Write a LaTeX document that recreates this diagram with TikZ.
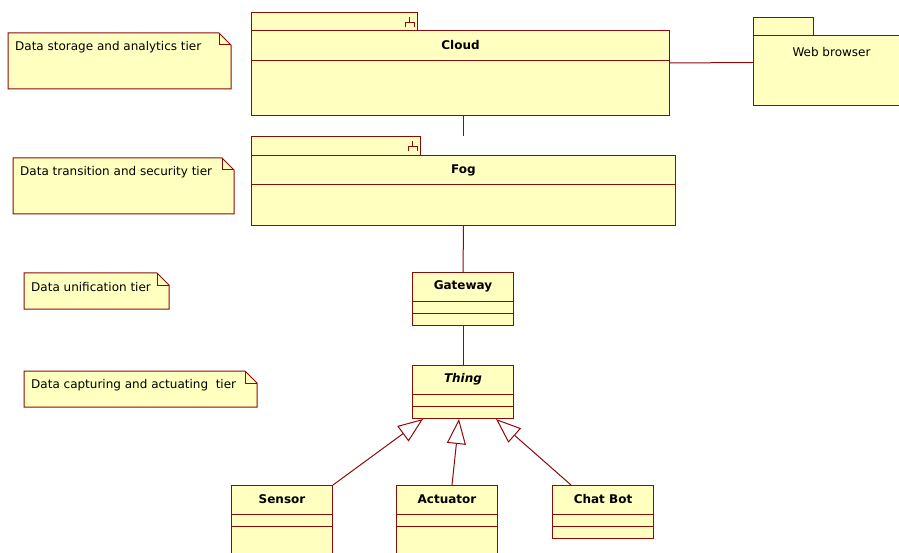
\documentclass[tikz,border=0pt]{standalone}
\usepackage{fontspec}
\setmainfont{DejaVu Sans}
\usetikzlibrary{arrows.meta}
\definecolor{umlred}{RGB}{140,10,10}
\definecolor{umlfill}{RGB}{255,255,192}
\tikzset{
  umlbox/.style={draw=umlred,fill=umlfill,line width=1pt,inner sep=0pt,anchor=north west},
  umlline/.style={draw=umlred,line width=1pt},
  umlname/.style={font=\fontsize{12}{14}\selectfont\bfseries},
  gen/.style={umlline,-{Triangle[open,length=25pt,width=19pt]}}
}
\begin{document}
\begin{tikzpicture}[x=1pt,y=-1pt,font=\fontsize{12}{14}\selectfont]
\useasboundingbox (0,0) rectangle (899,553);
\foreach \nm/\xa/\xb/\xt/\ya/\yb/\yc in {cloud/251/669/417/12/30/115,fog/251/675/420/136/155/225,web/753/909/813/17/35/105}{
  \node[umlbox,minimum width=\xt-\xa,minimum height=\yb-\ya] (\nm tab) at (\xa,\ya) {};
  \node[umlbox,minimum width=\xb-\xa,minimum height=\yc-\yb] (\nm) at (\xa,\yb) {};
}
\foreach \nm/\d/\txt in {cloud/31/Cloud,fog/30/Fog}{
  \node[umlname] (\nm name) at ([yshift=-\d pt/2]\nm.north) {\txt};
  \draw[umlline] ([yshift=-\d pt]\nm.north west) -- ([yshift=-\d pt]\nm.north east);
  \draw[umlline] ([shift={(-13,15.5)}]\nm tab.north east) -- ++(0,-5) -- ++(9,0) -- ++(0,5)
    ([shift={(-8.5,5)}]\nm tab.north east) -- ++(0,5.5);
}
\node (webname) at ([yshift=-17pt]web.north) {Web browser};
\foreach \nm/\xa/\ya/\xb/\yb/\txt in {storage/8/33/231/89/{Data storage and analytics tier},transition/13/158/234/214/{Data transition and security tier},unification/24/273/169/309/{Data unification tier},capturing/24/371/257/407/{Data capturing and actuating\ \ tier}}{
  \filldraw[umlline,fill=umlfill] (\xa,\ya) -- (\xb-12,\ya) -- (\xb,\ya+12) -- (\xb,\yb) -- (\xa,\yb) -- cycle;
  \draw[umlline] (\xb-12,\ya) -- (\xb-12,\ya+12) -- (\xb,\ya+12);
  \node[anchor=west,inner sep=0pt] (\nm) at (\xa+7,\ya+14) {\txt};
}
\foreach \nm/\x/\y/\h/\txt in {gateway/412/272/53/Gateway,thing/412/365/53/\textit{Thing},sensor/231/485/90/Sensor,actuator/396/485/90/Actuator,chatbot/552/485/53/Chat Bot}{
  \node[umlbox,minimum width=101pt,minimum height=\h pt] (\nm) at (\x,\y) {};
  \node[umlname] (\nm name) at ([yshift=-14.5pt]\nm.north) {\txt};
  \foreach \d in {29.5,41}
    \draw[umlline] ([yshift=-\d pt]\nm.north west) -- ([yshift=-\d pt]\nm.north east);
}
\draw[umlline] ([xshift=3pt]cloud.south) -- ([xshift=3pt]cloud.south |- fogtab.north);
\draw[umlline] ([yshift=10pt]cloud.east) -- ([yshift=8pt]web.west);
\draw[umlline] (fog.south) -- (gateway.north);
\draw[umlline] (gateway.south) -- (thing.north);
\draw[gen] (sensor.north east) -- ([xshift=11pt]thing.south west);
\draw[gen] ([xshift=5pt]actuator.north) -- ([xshift=-4pt]thing.south);
\draw[gen] ([xshift=-32pt]chatbot.north) -- ([xshift=-18pt]thing.south east);
\end{tikzpicture}
\end{document}
